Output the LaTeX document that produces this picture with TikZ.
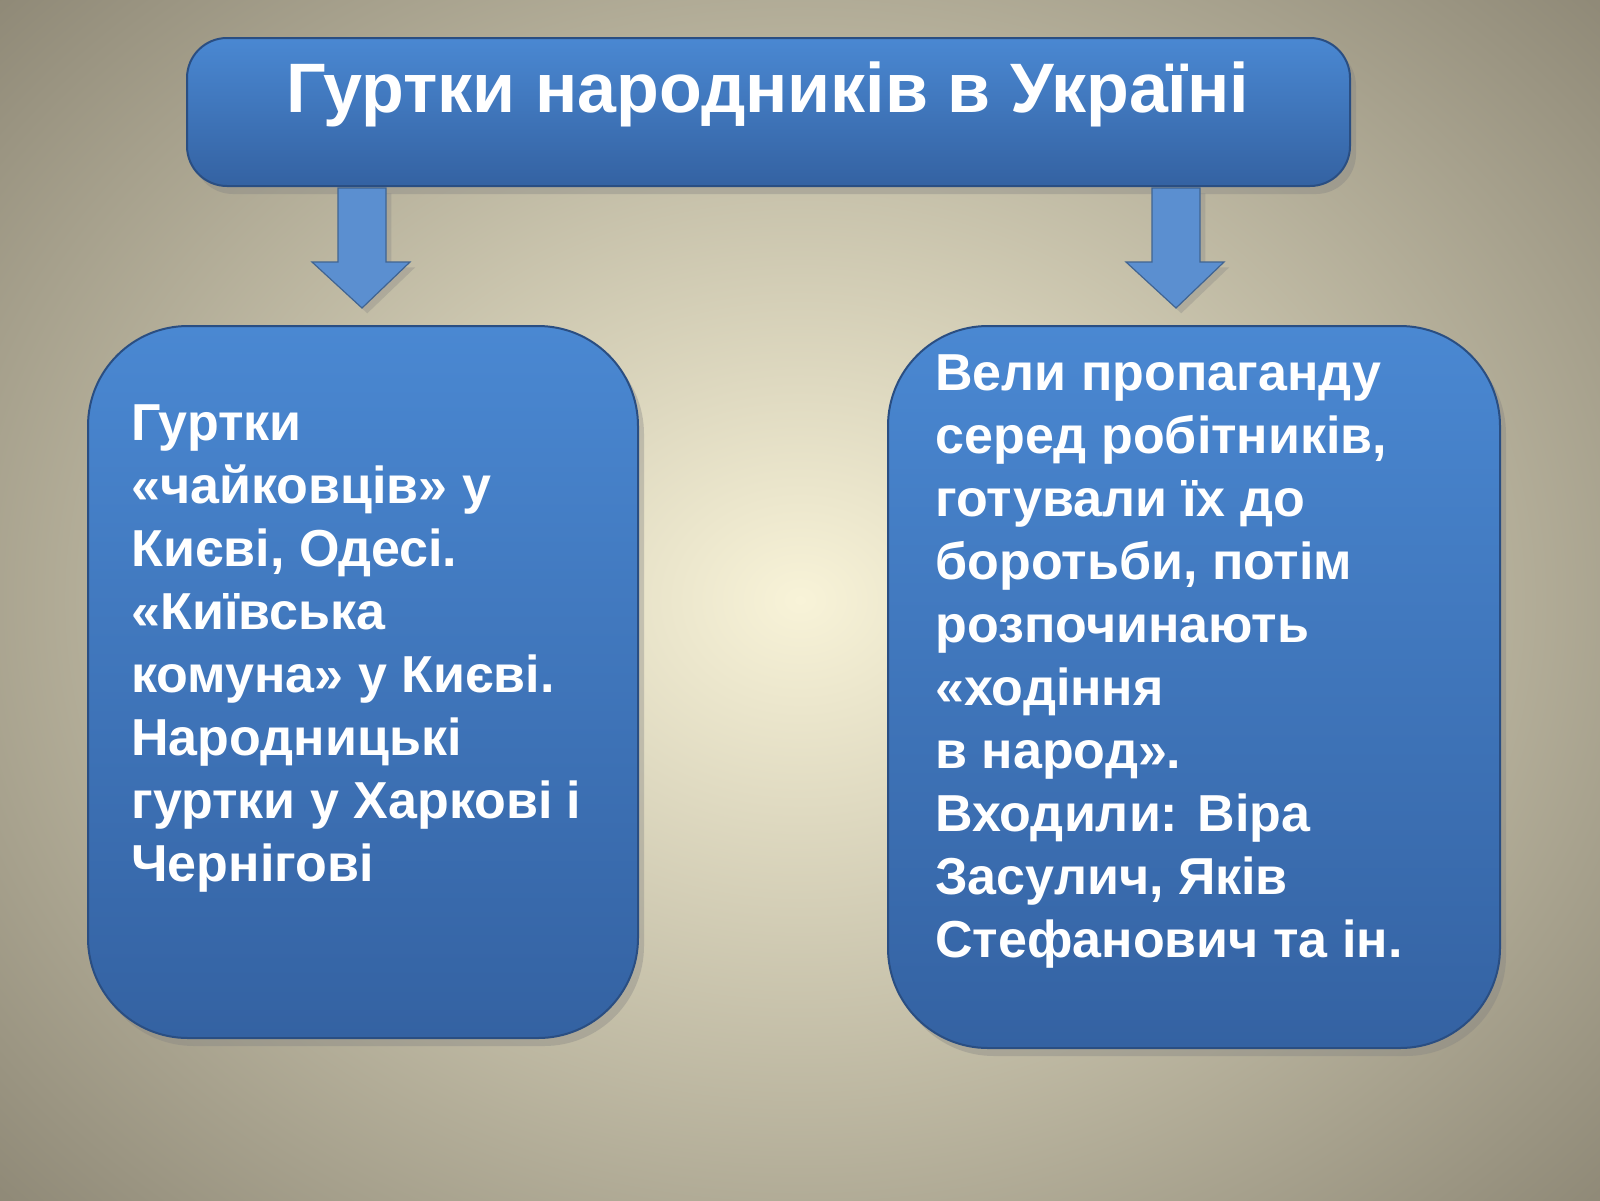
\documentclass[tikz,border=0pt]{standalone}
\usepackage{fontspec}
\setmainfont{Liberation Sans}
\usetikzlibrary{shadows}
\definecolor{bgin}{HTML}{F8F3D8}
\definecolor{bgout}{HTML}{8E8876}
\definecolor{btop}{HTML}{4A88D2}
\definecolor{bbot}{HTML}{3462A2}
\definecolor{aro}{HTML}{5B8FD0}
\tikzset{
 bluebox/.style={rounded corners=#1, top color=btop, bottom color=bbot, draw=bbot!80!black, line width=1pt,
   drop shadow={opacity=0.35, shadow xshift=3pt, shadow yshift=-4pt}},
 txt/.style={text=white, font=\fontsize{26}{31.5}\selectfont\bfseries, align=left, anchor=north west, inner sep=0pt},
 downarrow/.style={fill=aro, draw=aro!70!black, line width=0.6pt, drop shadow={opacity=0.3}}
}
\begin{document}
\begin{tikzpicture}[x=0.5pt,y=-0.5pt]
\useasboundingbox (0,0) rectangle (1600,1200);
\shade[inner color=bgin, outer color=bgout, shading=radial] (-300,-300) rectangle (1900,1500);
% title
\draw[bluebox=20pt] (187,38) rectangle (1350,186);
\node[text=white, font=\fontsize{35}{40}\selectfont\bfseries] (title) at (768,94) {Гуртки народників в Україні};
% arrows
\draw[downarrow] (338,188) -- (386,188) -- (386,262) -- (410,262) -- (362,308) -- (312,262) -- (338,262) -- cycle;
\draw[downarrow] (1152,188) -- (1200,188) -- (1200,262) -- (1224,262) -- (1176,308) -- (1126,262) -- (1152,262) -- cycle;
% boxes
\draw[bluebox=50pt] (88,326) rectangle (638,1038);
\draw[bluebox=50pt] (888,326) rectangle (1500,1048);
\node[txt] (left) at (131,404) {Гуртки\\«чайковців» у\\Києві, Одесі.\\«Київська\\комуна» у Києві.\\Народницькі\\гуртки у Харкові і\\Чернігові};
\node[txt] (right) at (935,354) {Вели пропаганду\\серед робітників,\\готували їх до\\боротьби, потім\\розпочинають\\«ходіння\\в народ».\\Входили: Віра\\Засулич, Яків\\Стефанович та ін.};
\end{tikzpicture}
\end{document}
